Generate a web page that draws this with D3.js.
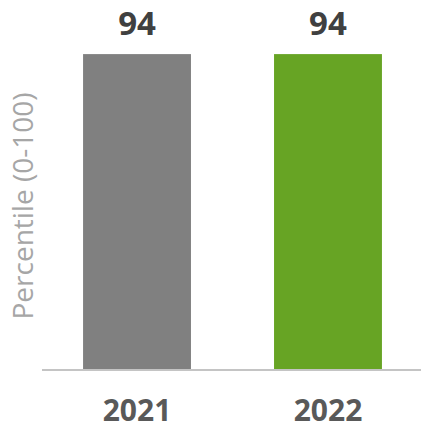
<!DOCTYPE html>
<html>
<head>
<meta charset="utf-8">
<script src="https://cdn.jsdelivr.net/npm/d3@7"></script>
<style>
  html, body { margin: 0; padding: 0; background: #fff; }
  svg { display: block; font-family: "Open Sans", sans-serif; }
</style>
</head>
<body>
<div id="chart"></div>
<script>
// chart values
var years = ["2021", "2022"];
var percentiles = [94, 94];
var barColors = ["#808080", "#67a424"];
var yTitle = "Percentile (0-100)";

var w = 421, h = 429;

var svg = d3.select("#chart").append("svg")
	.attr("width", w)
	.attr("height", h);

var x = d3.scaleBand()
	.domain(years)
	.range([42, 423])
	.paddingInner(0.435)
	.paddingOuter(0.215);

var y = d3.scaleLinear()
	.domain([0, 100])
	.range([369, 34]);

var data = years.map(function (d, i) {
	return { year: d, value: percentiles[i], color: barColors[i] };
});

svg.selectAll("rect.bar")
	.data(data)
	.enter()
	.append("rect")
	.attr("class", "bar")
	.attr("x", function (d) { return x(d.year); })
	.attr("width", x.bandwidth())
	.attr("y", function (d) { return y(d.value); })
	.attr("height", function (d) { return y(0) - y(d.value); })
	.attr("fill", function (d) { return d.color; });

// baseline
svg.append("line")
	.attr("x1", 42)
	.attr("x2", w)
	.attr("y1", y(0) + 1)
	.attr("y2", y(0) + 1)
	.attr("stroke", "#c4c4c4")
	.attr("stroke-width", 2);

// value labels
svg.selectAll("text.value")
	.data(data)
	.enter()
	.append("text")
	.attr("class", "value")
	.attr("x", function (d) { return x(d.year) + x.bandwidth() / 2; })
	.attr("y", function (d) { return y(d.value) - 19; })
	.attr("text-anchor", "middle")
	.attr("font-size", "33px")
	.attr("font-weight", "bold")
	.attr("fill", "#404040")
	.text(function (d) { return d.value; });

// category labels
svg.selectAll("text.year")
	.data(data)
	.enter()
	.append("text")
	.attr("class", "year")
	.attr("x", function (d) { return x(d.year) + x.bandwidth() / 2; })
	.attr("y", 420.5)
	.attr("text-anchor", "middle")
	.attr("font-size", "30px")
	.attr("font-weight", "bold")
	.attr("fill", "#595959")
	.text(function (d) { return d.year; });

// y axis title
svg.append("text")
	.attr("transform", "translate(33,206) rotate(-90)")
	.attr("text-anchor", "middle")
	.attr("font-size", "28px")
	.attr("fill", "#a6a6a6")
	.text(yTitle);
</script>
</body>
</html>
